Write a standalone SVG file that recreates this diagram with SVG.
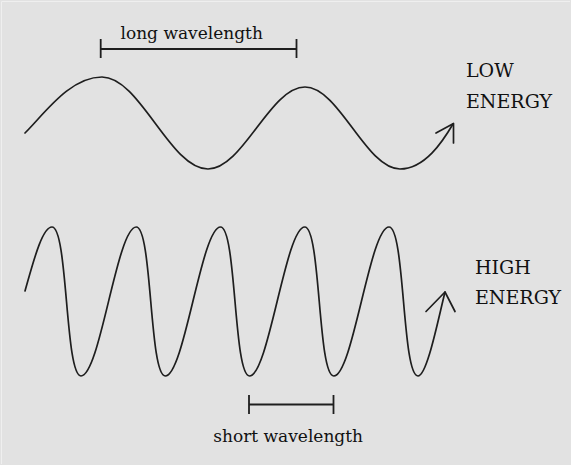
<svg xmlns="http://www.w3.org/2000/svg" width="571" height="465" viewBox="0 0 571 465">
<style>
.wave{fill:none;stroke:#1e1e1e;stroke-width:1.7;stroke-linecap:round;stroke-linejoin:round}
.br{fill:none;stroke:#1e1e1e;stroke-width:1.8}
.lbl{font-family:"DejaVu Serif","Liberation Serif",serif;font-size:17px;fill:#111}
.cap{font-family:"DejaVu Serif","Liberation Serif",serif;font-size:19px;fill:#111}
</style>
<rect x="0" y="0" width="571" height="465" fill="#e2e2e2"/>
<path d="M1.5 464V1.5H570" fill="none" stroke="#efefef" stroke-width="1"/>
<g id="low-energy-wave">
<path class="wave" d="M25 133C45 113 70 77 102 77C140 77 170 169 208 169C243 169 270 87 305 87C339 87 366 169 400 169C425 169 443 141 453 124"/>
<path class="wave" d="M436 133L453.5 123.5L453.5 143"/>
</g>
<g id="high-energy-wave">
<path class="wave" d="M25 291C33 263 42 227 52 227C68 227 65 376 81 376C100 376 117 227 136.25 227C152.25 227 149.25 376 165.25 376C184.25 376 201.5 227 220.5 227C236.5 227 233.5 376 249.5 376C268.5 376 285.75 227 304.75 227C320.75 227 317.75 376 333.75 376C352.75 376 370 227 389 227C405 227 402 376 418 376C427 376 438 320 445 292"/>
<path class="wave" d="M426 311.5L445 292L455 311.5"/>
</g>
<g id="connectors">
<path class="br" d="M100.7 39V58M100.7 49H296.5M296.5 39V58"/>
<path class="br" d="M249 395V414M249 404.5H333.5M333.5 395V414"/>
</g>
<g id="label-long-wavelength"><text class="lbl" x="120.5" y="39">long wavelength</text></g>
<g id="label-short-wavelength"><text class="lbl" x="213.3" y="442">short wavelength</text></g>
<g id="label-low-energy">
<text class="cap" x="466" y="77">LOW</text>
<text class="cap" x="466" y="108">ENERGY</text>
</g>
<g id="label-high-energy">
<text class="cap" x="475" y="274">HIGH</text>
<text class="cap" x="475" y="304">ENERGY</text>
</g>
</svg>
